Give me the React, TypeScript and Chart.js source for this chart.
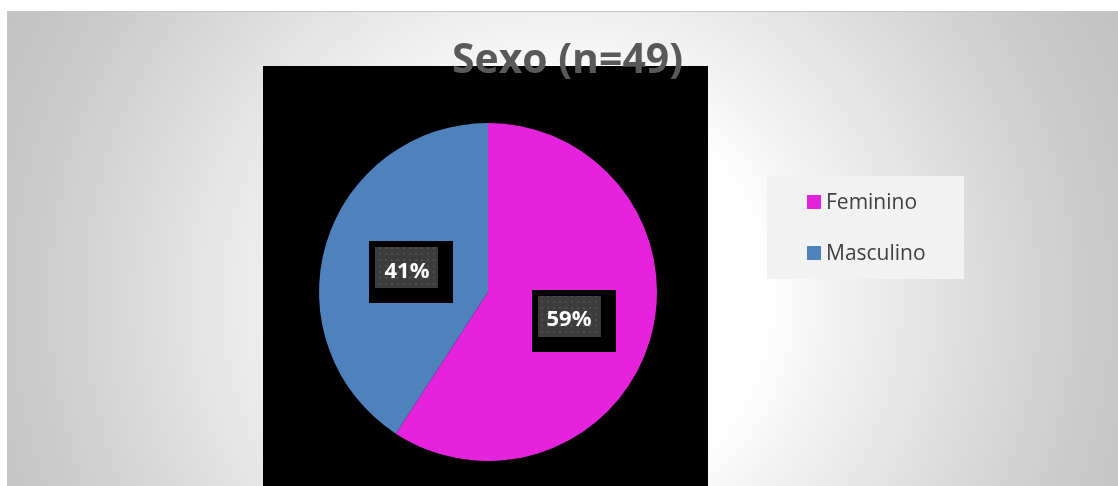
import React, { useEffect, useRef } from "react";
import { Chart, registerables } from "chart.js";

Chart.register(...registerables);

const categories = ["Feminino", "Masculino"];
const counts = [29, 20];
const percentLabels = ["59%", "41%"];
const sliceColors = ["#E623DC", "#4F81BD"];
const titleText = "Sexo (n=49)";

const W = 1118;
const H = 486;

function makeDotPattern(ctx: CanvasRenderingContext2D) {
  const c = document.createElement("canvas");
  c.width = 6;
  c.height = 6;
  const p = c.getContext("2d")!;
  p.fillStyle = "#3c3c3c";
  p.fillRect(0, 0, 6, 6);
  p.fillStyle = "#4e4e4e";
  p.fillRect(1, 1, 2, 2);
  return ctx.createPattern(c, "repeat");
}

const decorPlugin = {
  id: "decor",
  beforeDraw(chart: any) {
    const ctx: CanvasRenderingContext2D = chart.ctx;
    ctx.save();
    ctx.fillStyle = "#ffffff";
    ctx.fillRect(0, 0, W, H);
    // gradient plot background
    const g = ctx.createRadialGradient(562, 300, 200, 562, 300, 630);
    g.addColorStop(0, "#ffffff");
    g.addColorStop(0.2, "#f0f0f0");
    g.addColorStop(0.69, "#d0d0d0");
    g.addColorStop(0.82, "#c8c8c8");
    g.addColorStop(1, "#c2c2c2");
    ctx.fillStyle = g;
    ctx.fillRect(7, 11, W - 7, H - 11);
    ctx.fillStyle = "#c8c8c8";
    ctx.fillRect(7, 11, W - 7, 1);
    ctx.fillRect(7, 11, 1, H - 11);
    // black panel
    ctx.fillStyle = "#000000";
    ctx.fillRect(263, 66, 445, H - 66);
    // legend
    ctx.fillStyle = "#f2f2f2";
    ctx.fillRect(767, 176, 197, 103);
    const labels: string[] = chart.data.labels;
    const colors: string[] = chart.data.datasets[0].backgroundColor;
    ctx.font = '21px "Open Sans", sans-serif';
    ctx.textBaseline = "alphabetic";
    ctx.textAlign = "left";
    labels.forEach((lab, i) => {
      const baseY = 209 + i * 51;
      ctx.fillStyle = colors[i];
      ctx.fillRect(807, baseY - 14, 14, 14);
      ctx.fillStyle = "#404040";
      ctx.fillText(lab, 826, baseY);
    });
    // title
    ctx.font = 'bold 40px "Open Sans", sans-serif';
    const tw = ctx.measureText(titleText).width;
    const size = 40 * (231 / tw);
    ctx.font = `bold ${size.toFixed(1)}px "Open Sans", sans-serif`;
    ctx.fillStyle = "#595959";
    ctx.textAlign = "center";
    ctx.fillText(titleText, 567.5, 73);
    ctx.restore();
  },
  afterDatasetsDraw(chart: any) {
    const ctx: CanvasRenderingContext2D = chart.ctx;
    const meta = chart.getDatasetMeta(0);
    const pat = makeDotPattern(ctx);
    ctx.save();
    meta.data.forEach((arc: any, i: number) => {
      const pos = arc.tooltipPosition();
      const bw = 63;
      const bh = 41;
      const x = Math.round(pos.x - bw / 2);
      const y = Math.round(pos.y - bh / 2);
      ctx.fillStyle = "#000000";
      ctx.fillRect(x - 6, y - 6, bw + 21, bh + 21);
      ctx.fillStyle = pat || "#3c3c3c";
      ctx.fillRect(x, y, bw, bh);
      ctx.fillStyle = "#ffffff";
      ctx.font = 'bold 22px "Open Sans", sans-serif';
      ctx.textAlign = "center";
      ctx.textBaseline = "alphabetic";
      ctx.fillText(percentLabels[i], pos.x, pos.y + 10);
    });
    ctx.restore();
  },
};

export default function App() {
  const ref = useRef<HTMLCanvasElement | null>(null);
  useEffect(() => {
    if (!ref.current) return;
    const chart = new Chart(ref.current, {
      type: "pie",
      data: {
        labels: categories,
        datasets: [
          {
            data: counts,
            backgroundColor: sliceColors,
            borderWidth: 0,
          },
        ],
      },
      options: {
        responsive: false,
        animation: false,
        layout: { padding: { left: 319, right: 461, top: 123, bottom: 25 } },
        plugins: {
          legend: { display: false },
          title: { display: false },
          tooltip: { enabled: false },
        },
      },
      plugins: [decorPlugin],
    });
    return () => chart.destroy();
  }, []);
  return (
    <div style={{ position: "fixed", left: 0, top: 0, width: W, height: H }}>
      <canvas ref={ref} width={W} height={H} style={{ width: W, height: H, display: "block" }} />
    </div>
  );
}
